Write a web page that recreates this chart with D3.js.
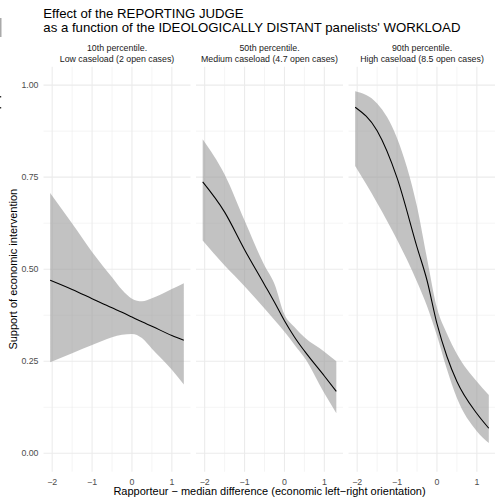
<!DOCTYPE html>
<html>
<head>
<meta charset="utf-8">
<script src="https://cdn.jsdelivr.net/npm/d3@7"></script>
<style>
  body { margin: 0; background: #fff; }
  svg { display: block; font-family: "Liberation Sans", Arial, sans-serif; }
</style>
</head>
<body>
<div id="chart"></div>
<script>
  // facets
  var panelTitles = [
    ["10th percentile.", "Low caseload (2 open cases)"],
    ["50th percentile.", "Medium caseload (4.7 open cases)"],
    ["90th percentile.", "High caseload (8.5 open cases)"]
  ];

  // rapporteur - median difference, where the curves were read
  var xs = [-2.05, -1.5, -1, -0.5, -0.25, 0, 0.25, 0.5, 1, 1.3];

  // predicted support, one array per facet (fit / lower / upper)
  var fitLow   = [0.470, 0.445, 0.420, 0.395, 0.383, 0.370, 0.357, 0.345, 0.320, 0.307];
  var loLow    = [0.247, 0.272, 0.294, 0.315, 0.322, 0.324, 0.313, 0.284, 0.227, 0.187];
  var hiLow    = [0.707, 0.624, 0.547, 0.478, 0.444, 0.420, 0.413, 0.421, 0.446, 0.462];

  var fitMed   = [0.737, 0.655, 0.553, 0.458, 0.410, 0.360, 0.316, 0.278, 0.210, 0.168];
  var loMed    = [0.578, 0.510, 0.454, 0.393, 0.362, 0.330, 0.295, 0.260, 0.163, 0.109];
  var hiMed    = [0.853, 0.757, 0.632, 0.510, 0.460, 0.377, 0.343, 0.315, 0.276, 0.250];

  var fitHigh  = [0.940, 0.876, 0.748, 0.560, 0.470, 0.352, 0.263, 0.195, 0.108, 0.068];
  var loHigh   = [0.780, 0.680, 0.580, 0.466, 0.400, 0.320, 0.228, 0.150, 0.060, 0.028];
  var hiHigh   = [0.983, 0.950, 0.856, 0.670, 0.530, 0.395, 0.325, 0.270, 0.195, 0.158];

  var xTicks = [-2, -1, 0, 1];
  var xMinor = [-1.5, -0.5, 0.5];
  var yTicks = [0, 0.25, 0.5, 0.75, 1];
  var yMinor = [0.125, 0.375, 0.625, 0.875];

  var panels = [
    {title: panelTitles[0], fit: fitLow,  lo: loLow,  hi: hiLow},
    {title: panelTitles[1], fit: fitMed,  lo: loMed,  hi: hiMed},
    {title: panelTitles[2], fit: fitHigh, lo: loHigh, hi: hiHigh}
  ];

  var W = 495, H = 497;
  // note: "top" is taken by window.top, so the panel edges get their own names
  var panelLeft = 43.5, panelTop = 66.7, panelBottom = 471.7;
  var panelW = 147, gap = 5.5;

  var svg = d3.select("#chart").append("svg")
    .attr("width", W).attr("height", H);

  // little bits cut off at the left edge of the original
  svg.append("rect").attr("x", 0).attr("y", 18).attr("width", 1.5).attr("height", 19).attr("fill", "#aaa");
  svg.append("rect").attr("x", 0).attr("y", 96).attr("width", 1.2).attr("height", 1.5).attr("fill", "#333");
  svg.append("rect").attr("x", 0).attr("y", 107).attr("width", 1.2).attr("height", 1.5).attr("fill", "#333");

  var y = d3.scaleLinear().domain([-0.05, 1.05]).range([panelBottom, panelTop]);

  // title
  svg.append("text").attr("x", 43.3).attr("y", 17.5)
    .attr("font-size", 13.2).attr("fill", "#000")
    .text("Effect of the REPORTING JUDGE");
  svg.append("text").attr("x", 43.3).attr("y", 32)
    .attr("font-size", 13.2).attr("fill", "#000")
    .text("as a function of the IDEOLOGICALLY DISTANT panelists' WORKLOAD");

  panels.forEach(function(p, k){
    var x0 = panelLeft + k * (panelW + gap);
    var x = d3.scaleLinear().domain([-2.2175, 1.4675]).range([x0, x0 + panelW]);
    var g = svg.append("g");

    // grid
    g.selectAll(".ym").data(yMinor).enter().append("line")
      .attr("x1", x0).attr("x2", x0 + panelW)
      .attr("y1", function(d){ return y(d); }).attr("y2", function(d){ return y(d); })
      .attr("stroke", "#ebebeb").attr("stroke-width", 0.55);
    g.selectAll(".xm").data(xMinor).enter().append("line")
      .attr("y1", panelTop).attr("y2", panelBottom)
      .attr("x1", function(d){ return x(d); }).attr("x2", function(d){ return x(d); })
      .attr("stroke", "#ebebeb").attr("stroke-width", 0.55);
    g.selectAll(".yM").data(yTicks).enter().append("line")
      .attr("x1", x0).attr("x2", x0 + panelW)
      .attr("y1", function(d){ return y(d); }).attr("y2", function(d){ return y(d); })
      .attr("stroke", "#ebebeb").attr("stroke-width", 1.07);
    g.selectAll(".xM").data(xTicks).enter().append("line")
      .attr("y1", panelTop).attr("y2", panelBottom)
      .attr("x1", function(d){ return x(d); }).attr("x2", function(d){ return x(d); })
      .attr("stroke", "#ebebeb").attr("stroke-width", 1.07);

    var rows = xs.map(function(v, i){ return {x: v, fit: p.fit[i], lo: p.lo[i], hi: p.hi[i]}; });

    var area = d3.area()
      .x(function(d){ return x(d.x); })
      .y0(function(d){ return y(d.lo); })
      .y1(function(d){ return y(d.hi); })
      .curve(d3.curveMonotoneX);
    g.append("path").datum(rows).attr("d", area)
      .attr("fill", "#999").attr("fill-opacity", 0.6);

    var line = d3.line()
      .x(function(d){ return x(d.x); })
      .y(function(d){ return y(d.fit); })
      .curve(d3.curveMonotoneX);
    g.append("path").datum(rows).attr("d", line)
      .attr("fill", "none").attr("stroke", "#000").attr("stroke-width", 1.07);

    // strip labels
    p.title.forEach(function(t, j){
      g.append("text").attr("x", x0 + panelW / 2).attr("y", 51 + j * 11)
        .attr("text-anchor", "middle").attr("font-size", 8.8).attr("fill", "#1a1a1a")
        .text(t);
    });

    // x tick labels
    g.selectAll(".xt").data(xTicks).enter().append("text")
      .attr("x", function(d){ return x(d); }).attr("y", 484.5)
      .attr("text-anchor", "middle").attr("font-size", 8.8).attr("fill", "#4d4d4d")
      .text(function(d){ return d < 0 ? "\u2212" + Math.abs(d) : d; });
  });

  // y tick labels
  svg.selectAll(".yt").data(yTicks).enter().append("text")
    .attr("x", 38.5).attr("y", function(d){ return y(d) + 3.1; })
    .attr("text-anchor", "end").attr("font-size", 8.8).attr("fill", "#4d4d4d")
    .text(function(d){ return d.toFixed(2); });

  // axis titles
  svg.append("text").attr("x", (panelLeft + panelLeft + 3 * panelW + 2 * gap) / 2).attr("y", 495)
    .attr("text-anchor", "middle").attr("font-size", 11).attr("fill", "#000")
    .text("Rapporteur \u2212 median difference (economic left\u2212right orientation)");
  svg.append("text")
    .attr("transform", "translate(17," + ((panelTop + panelBottom) / 2) + ") rotate(-90)")
    .attr("text-anchor", "middle").attr("font-size", 11).attr("fill", "#000")
    .text("Support of economic intervention");
</script>
</body>
</html>
